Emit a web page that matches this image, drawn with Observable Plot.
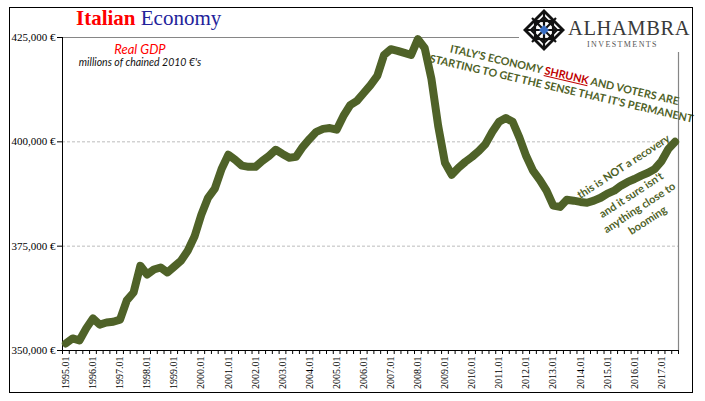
<!DOCTYPE html>
<html><head><meta charset="utf-8">
<script src="https://cdn.jsdelivr.net/npm/d3@7"></script>
<script src="https://cdn.jsdelivr.net/npm/@observablehq/plot@0.6"></script>
<style>
html,body{margin:0;padding:0;background:#fff;}
#wrap{position:relative;width:705px;height:401px;overflow:hidden;background:#fff;}
#wrap > svg{position:absolute;left:0;top:0;}
.border{position:absolute;left:9px;top:7px;width:682px;height:384px;border:1.5px solid #000;pointer-events:none;}
.title{position:absolute;left:76px;top:8px;font-family:'Liberation Serif',serif;font-size:21px;white-space:nowrap;line-height:1;}
.title .a{color:#ff0000;font-weight:bold;}
.title .b{color:#22229a;}
.sub1{position:absolute;left:140px;top:43px;transform:translateX(-50%);font-family:Lato,sans-serif;font-style:italic;font-size:13px;color:#ff0000;white-space:nowrap;line-height:1;}
.sub2{position:absolute;left:140px;top:57px;transform:translateX(-50%);font-family:Lato,sans-serif;font-style:italic;font-size:10.5px;color:#111;white-space:nowrap;line-height:1;}
.ann1{position:absolute;left:563px;top:82px;transform:translate(-50%,-50%) rotate(13deg);font-family:Lato,sans-serif;font-weight:bold;font-size:10.8px;line-height:14.4px;color:#4f6228;text-align:center;white-space:nowrap;}
.ann1 .r{color:#c00000;text-decoration:underline;}
.ann2{position:absolute;left:623px;top:166px;transform:translate(-50%,-50%) rotate(-33deg);font-family:Lato,sans-serif;font-weight:bold;font-size:11px;color:#4f6228;white-space:nowrap;line-height:1;}
.ann3{position:absolute;left:639px;top:207px;transform:translate(-50%,-50%) rotate(-33deg);font-family:Lato,sans-serif;font-weight:bold;font-size:11px;line-height:15px;color:#4f6228;text-align:center;white-space:nowrap;}
.logo{position:absolute;left:519px;top:8px;width:172px;height:44px;background:#fff;}
</style></head>
<body><div id="wrap"></div>
<script>
// ---- data ----
const years = ["1995","1996","1997","1998","1999","2000","2001","2002","2003","2004","2005","2006","2007","2008","2009","2010","2011","2012","2013","2014","2015","2016","2017"];
const quarterSuffixes = [".01",".02",".03",".04"];
const gdp = [
351700, 352900, 352400, 355300,
357700, 356200, 356700, 356900,
357400, 362000, 363900, 370300,
368200, 369400, 369900, 368700,
370100, 371500, 373900, 377300,
382500, 386600, 388800, 393500,
396900, 395700, 394300, 394000,
394000, 395400, 396600, 398100,
397100, 396200, 396400, 398800,
400700, 402400, 403100, 403300,
402900, 406200, 408800, 409800,
411700, 413600, 415800, 420800,
422200, 421800, 421300, 420800,
424600, 422500, 415100, 403800,
395000, 392100, 393800, 395200,
396400, 397800, 399500, 402400,
404800, 405700, 404800, 401000,
396600, 393100, 390900, 388300,
384700, 384400, 386100, 385900,
385600, 385400, 385900, 386600,
387600, 388300, 389500, 390400,
391100, 391900, 392600, 393500,
395400, 398300, 400000
];
const yTicks = [350000, 375000, 400000, 425000];

const quarters = years.flatMap(y => quarterSuffixes.map(q => y + q)).slice(0, gdp.length);
const data = gdp.map((v, i) => ({i, q: quarters[i], v}));
const n = gdp.length;
const green = "#4f6228";

const chart = Plot.plot({
  width: 705, height: 401,
  marginLeft: 62, marginRight: 27, marginTop: 37, marginBottom: 51,
  style: {background: "transparent", fontFamily: "'Liberation Serif', serif", fontSize: "11px", color: "#000", overflow: "visible"},
  x: {domain: [-0.5, n - 0.5]},
  y: {domain: [yTicks[0], yTicks[yTicks.length - 1]]},
  marks: [
    Plot.ruleY(yTicks.slice(1, -1), {stroke: "#bdbdbd", strokeDasharray: "3,2", strokeWidth: 1}),
    Plot.ruleY([yTicks[yTicks.length - 1]], {stroke: "#868686", strokeWidth: 1.2}),
    Plot.ruleX([n - 0.5], {stroke: "#868686", strokeWidth: 1.2}),
    Plot.ruleX([-0.5], {stroke: "#000", strokeWidth: 1}),
    Plot.ruleY([yTicks[0]], {stroke: "#000", strokeWidth: 1}),
    Plot.axisY({ticks: yTicks, tickFormat: d => d3.format(",")(d) + "\u00a0€", tickSize: 5, tickPadding: 2, label: null, fontSize: 11, stroke: "#000"}),
    Plot.axisX({ticks: d3.range(n + 1).map(i => i - 0.5), tickFormat: () => "", tickSize: 4, label: null, stroke: "#000"}),
    Plot.axisX({ticks: d3.range(n).filter(i => quarters[i].endsWith(".01")), tickFormat: i => quarters[i], tickSize: 0, tickPadding: 6, tickRotate: -90, label: null, fontSize: 10}),
    Plot.lineY(data, {x: "i", y: "v", stroke: green, strokeWidth: 8, strokeLinejoin: "round", strokeLinecap: "round"})
  ]
});

const wrap = document.getElementById("wrap");
wrap.appendChild(chart);

const html = `
<div class="title"><span class="a">Italian</span> <span class="b">Economy</span></div>
<div class="sub1">Real GDP</div>
<div class="sub2">millions of chained 2010 €'s</div>
<div class="ann1">ITALY'S ECONOMY <span class="r">SHRUNK</span> AND VOTERS ARE<br>STARTING TO GET THE SENSE THAT IT'S PERMANENT</div>
<div class="ann2">this is NOT a recovery</div>
<div class="ann3">and it sure isn't<br>anything close to<br>booming</div>
<div class="logo"><svg width="172" height="44" viewBox="0 0 172 44">
  <g transform="translate(25,22)">
    <polygon points="0,-21 21,0 0,21 -21,0" fill="#111"/>
    <polygon points="0,-17 17,0 0,17 -17,0" fill="#fff"/>
    <g stroke="#111" stroke-width="2.2" fill="none">
      <polygon points="0,-13 13,0 0,13 -13,0"/>
      <rect x="-9" y="-9" width="18" height="18"/>
      <line x1="-17" y1="0" x2="17" y2="0"/>
      <line x1="0" y1="-17" x2="0" y2="17"/>
      <line x1="-12" y1="-12" x2="12" y2="12"/>
      <line x1="12" y1="-12" x2="-12" y2="12"/>
    </g>
    <polygon points="0,-5 5,0 0,5 -5,0" fill="#3a6fc4"/>
  </g>
  <text x="49" y="27" font-family="'Liberation Serif',serif" font-size="20.5" fill="#3a3a3a" letter-spacing="0.6">ALHAMBRA</text>
  <text x="68" y="39" font-family="'Liberation Serif',serif" font-size="8" fill="#555" letter-spacing="1.4">INVESTMENTS</text>
</svg></div>
<div class="border"></div>`;
wrap.insertAdjacentHTML("beforeend", html);
</script>
</body></html>
